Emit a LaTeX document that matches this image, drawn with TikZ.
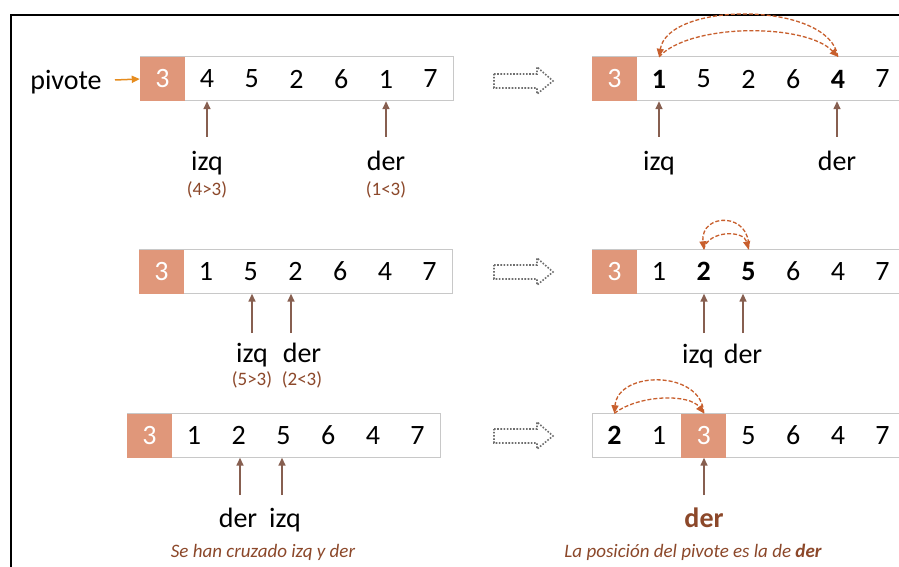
\documentclass[tikz,border=0pt]{standalone}
\usepackage{fontspec}
\setmainfont{Carlito}
\usetikzlibrary{arrows.meta}
\definecolor{pivfill}{RGB}{224,151,122}
\definecolor{boxgray}{RGB}{200,200,200}
\definecolor{brownt}{RGB}{140,72,42}
\definecolor{ptrcol}{RGB}{135,95,80}
\definecolor{swapcol}{RGB}{200,95,45}
\definecolor{pivarrow}{RGB}{230,140,30}
\definecolor{dotgray}{RGB}{110,110,110}
\newcommand\arrayrow[5]{%
  \draw[arrbox] (#2,{#3-22}) rectangle ({#2+313},{#3+22});
  \foreach \v [count=\i] in {#5} {
    \ifnum\i=#4\relax
      \node[pivcell] (#1\i) at ({#2+44.7*(\i-0.5)},#3) {\v};
    \else
      \node[cellbox] (#1\i) at ({#2+44.7*(\i-0.5)},#3) {\v};
    \fi
  }%
}
\begin{document}
\begin{tikzpicture}[x=1pt,y=-1pt,
  cellbox/.style={minimum width=44.7pt, minimum height=44pt, inner sep=0pt, font=\fontsize{28}{30}\selectfont},
  pivcell/.style={cellbox, fill=pivfill, text=white},
  arrbox/.style={draw=boxgray, line width=1pt},
  lbl/.style={anchor=base, inner sep=0pt, font=\fontsize{28}{30}\selectfont},
  cond/.style={inner sep=0pt, text=brownt, font=\fontsize{19}{21}\selectfont},
  note/.style={anchor=base, inner sep=0pt, text=brownt, font=\fontsize{19}{21}\selectfont\itshape},
  ptr/.style={draw=ptrcol, line width=1.5pt, -{Triangle[length=8pt,width=7pt]}},
  swap/.style={draw=swapcol, line width=1.3pt, dash pattern=on 4pt off 2pt, -{Triangle[length=8pt,width=7pt]}},
  blockarrow/.style={draw=dotgray, line width=1.6pt, dash pattern=on 1.6pt off 1.6pt},
]
\useasboundingbox (0,0) rectangle (899,567);
\clip (0,0) rectangle (899,567);
\fill[white] (0,0) rectangle (899,567);
% frame
\draw[line width=2pt] (11,568) -- (11,15) -- (900,15);

% arrays
\arrayrow{A}{140}{79}{1}{3,4,5,2,6,1,7}
\arrayrow{B}{592}{79}{1}{3,\textbf{1},5,2,6,\textbf{4},7}
\arrayrow{C}{139}{271.5}{1}{3,1,5,2,6,4,7}
\arrayrow{D}{592}{271.5}{1}{3,1,\textbf{2},\textbf{5},6,4,7}
\arrayrow{E}{127}{435.5}{1}{3,1,2,5,6,4,7}
\arrayrow{F}{592}{435.5}{3}{\textbf{2},1,3,5,6,4,7}

% pivote label
\node[lbl] (piv) at (66,90) {pivote};
\coordinate (pivtail) at (115,80);
\draw[draw=pivarrow, line width=1.5pt, -{Triangle[length=8pt,width=7pt]}] (pivtail) -- (A1.west);

% transition arrows
\foreach \y [count=\k] in {81,272,436} {
  \draw[blockarrow] (494,\y-7) -- (537,\y-7) -- (537,\y-14) -- (553,\y) -- (537,\y+13) -- (537,\y+7) -- (494,\y+7) -- cycle;
}

% row 1 left labels
\node[lbl] (izq1) at (207,170) {izq};
\node[lbl] (der1) at (386,170) {der};
\node[cond] (c1) at (207,190) {(4>3)};
\node[cond] (c2) at (386,190) {(1<3)};
\coordinate (p1) at (207,137);
\coordinate (p2) at (386,137);
\draw[ptr] (p1) -- (p1 |- A2.south);
\draw[ptr] (p2) -- (p2 |- A6.south);

% row 1 right
\node[lbl] (izq2) at (659,170) {izq};
\node[lbl] (der2) at (837,170) {der};
\coordinate (p3) at (659,137);
\coordinate (p4) at (837,137);
\draw[ptr] (p3) -- (p3 |- B2.south);
\draw[ptr] (p4) -- (p4 |- B6.south);
\draw[swap] (B6.north) .. controls (830,1) and (668,1) .. (B2.north);
\draw[swap] (B2.north) .. controls (690,23) and (806,23) .. (B6.north);

% row 2 left
\node[lbl] (izq3) at (252,362) {izq};
\node[lbl] (der3) at (302,362) {der};
\node[cond] (c3) at (252,380) {(5>3)};
\node[cond] (c4) at (302,380) {(2<3)};
\coordinate (p5) at (252,333);
\coordinate (p6) at (291,333);
\draw[ptr] (p5) -- (p5 |- C3.south);
\draw[ptr] (p6) -- (p6 |- C4.south);

% row 2 right
\node[lbl] (izq4) at (698,363) {izq};
\node[lbl] (der4) at (743,363) {der};
\coordinate (p7) at (704,333);
\coordinate (p8) at (743,333);
\draw[ptr] (p7) -- (p7 |- D3.south);
\draw[ptr] (p8) -- (p8 |- D4.south);
\draw[swap] (D4.north) .. controls (752,212) and (700,212) .. (D3.north);
\draw[swap] (D3.north) .. controls (708,230) and (744,230) .. (D4.north);

% row 3 left
\node[lbl] (der5) at (238,527) {der};
\node[lbl] (izq5) at (285,527) {izq};
\coordinate (p9) at (240,495);
\coordinate (p10) at (282,495);
\draw[ptr] (p9) -- (p9 |- E3.south);
\draw[ptr] (p10) -- (p10 |- E4.south);
\node[note] (n1) at (263,557) {Se han cruzado izq y der};

% row 3 right
\node[lbl, text=brownt, font=\fontsize{28}{30}\selectfont\bfseries] (der6) at (704,527) {der};
\coordinate (p11) at (704,495);
\draw[ptr] (p11) -- (p11 |- F3.south);
\draw[swap] (F3.north) .. controls (702,370) and (618,370) .. (F1.north);
\draw[swap] (F1.north) .. controls (640,394) and (690,394) .. (F3.north);
\node[note] (n2) at (693,557) {La posición del pivote es la de \textbf{der}};
\end{tikzpicture}
\end{document}
